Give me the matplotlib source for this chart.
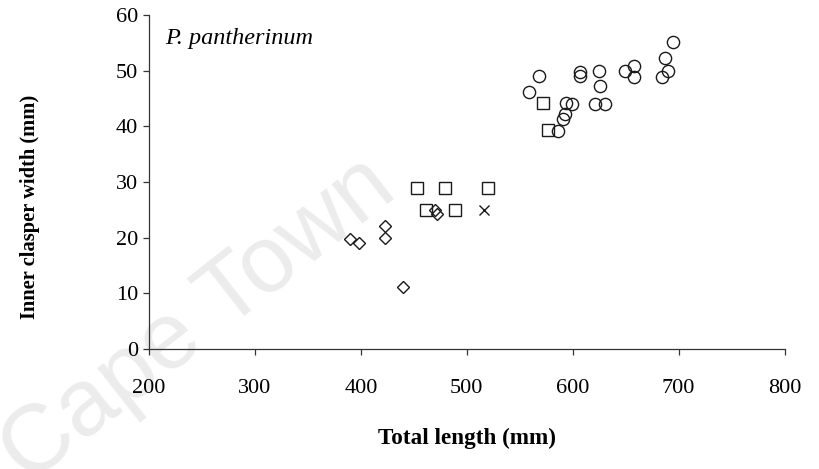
import matplotlib
matplotlib.use("Agg")
import matplotlib.pyplot as plt

# total length (mm) vs inner clasper width (mm), one pair of lists per marker
diamond_len = [390, 398, 423, 423, 440, 470, 472]
diamond_width = [19.7, 19.0, 22.1, 19.9, 11.1, 25.0, 24.2]

square_len = [453, 479, 520, 461, 489, 572, 577]
square_width = [29.0, 29.0, 29.0, 25.0, 25.0, 44.2, 39.3]

cross_len = [516]
cross_width = [25.0]

circle_len = [559, 568, 607, 607, 625, 626, 649, 658, 658, 594,
              599, 593, 591, 621, 630, 586, 695, 687, 690, 684]
circle_width = [46.2, 49.0, 49.8, 49.0, 49.9, 47.2, 50.0, 50.8, 48.9, 44.1,
                44.0, 42.3, 41.4, 44.0, 44.0, 39.2, 55.2, 52.2, 50.0, 48.9]

plt.rcParams['font.family'] = ['Liberation Serif', 'DejaVu Serif']

fig = plt.figure(figsize=(8.19, 4.69), dpi=100)
ax = fig.add_axes([0.182, 0.256, 0.776, 0.712])
ax.patch.set_visible(False)

# faint diagonal watermark behind everything
fig.text(0.487, 0.585, "University of Cape Town", family="Liberation Sans",
         fontsize=68, color="#ececec", rotation=38, rotation_mode="anchor",
         ha="right", va="baseline", zorder=-1)

ink = "#1a1a1a"
ax.plot(diamond_len, diamond_width, "D", ms=6, mfc="none", mec=ink, mew=1.0)
ax.plot(square_len, square_width, "s", ms=8.5, mfc="none", mec=ink, mew=1.0)
ax.plot(cross_len, cross_width, "x", ms=7, mec=ink, mew=1.0)
ax.plot(circle_len, circle_width, "o", ms=8.8, mfc="none", mec=ink, mew=1.0)

ax.set_xlim(200, 800)
ax.set_ylim(0, 60)
ax.set_xticks(range(200, 801, 100))
ax.set_yticks(range(0, 61, 10))

for side in ["top", "right"]:
    ax.spines[side].set_visible(False)
for side in ["left", "bottom"]:
    ax.spines[side].set_color("#333333")
    ax.spines[side].set_linewidth(0.9)

ax.tick_params(direction="out", length=4, width=0.9, color="#333333",
               labelsize=16)
ax.tick_params(axis="x", pad=18)
ax.tick_params(axis="y", pad=4)

ax.set_xlabel("Total length (mm)", fontsize=16.7, fontweight="bold")
ax.set_ylabel("Inner clasper width (mm)", fontsize=14.8, fontweight="bold")
ax.xaxis.set_label_coords(0.5, -0.235)
ax.yaxis.set_label_coords(-0.172, 0.425)

ax.text(0.025, 0.93, "P. pantherinum", transform=ax.transAxes, fontsize=17.5,
        style="italic", va="center", ha="left")

fig.savefig("out.png", dpi=100)
